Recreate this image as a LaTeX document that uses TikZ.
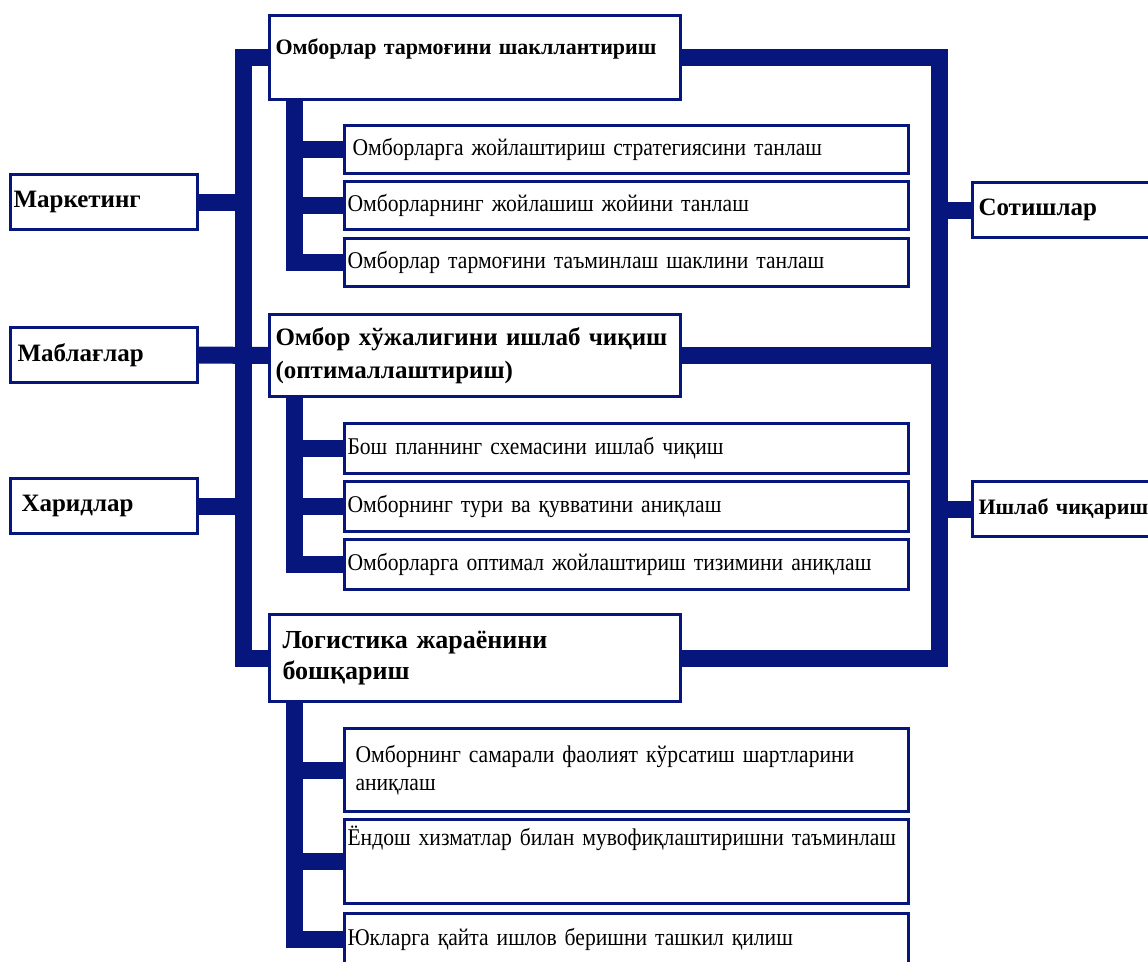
\documentclass[tikz,border=0pt]{standalone}
\usepackage{fontspec}
\setmainfont{Liberation Serif}
\newfontfamily\narrowfont[FakeStretch=0.9,WordSpace=0.8]{Liberation Serif}
\usetikzlibrary{positioning}
\definecolor{navy}{RGB}{6,22,124}

\begin{document}
\begin{tikzpicture}[x=1pt,y=-1pt,
  box/.style={draw=navy,line width=3pt,fill=white,anchor=north west,
    inner xsep=4pt,inner ysep=0pt,align=left},
  sidebox/.style={box,text width=181,minimum height=55,inner xsep=3pt,
    font=\bfseries\fontsize{25}{30}\selectfont},
  rightbox/.style={box,text width=218,minimum height=55,inner xsep=6pt,
    font=\bfseries\fontsize{25}{30}\selectfont},
  mainbox/.style={box,text width=399,inner xsep=6pt,
    font=\bfseries\fontsize{25}{33}\selectfont},
  subbox/.style={box,text width=558,minimum height=48,inner xsep=3pt,
    font=\narrowfont\fontsize{24}{28}\selectfont},
  bar/.style={navy,line width=17pt}]
\useasboundingbox (0,0) rectangle (1148,961);
% left column
\node[sidebox] (market) at (9,173) {Маркетинг};
\node[sidebox] (mablag) at (9,326) {\hspace*{4pt}Маблағлар};
\node[sidebox] (xarid) at (9,477) {\hspace*{8pt}Харидлар};
% right column
\node[rightbox] (sotish) at (971,181) {Сотишлар};
\node[rightbox,font=\bfseries\fontsize{22}{28}\selectfont] (ishlab) at (971,480) {Ишлаб чиқариш};
% main boxes
\node[mainbox,minimum height=84,text height=15pt,text depth=21pt,
  font=\bfseries\fontsize{22}{28}\selectfont] (tarmoq) at (268,14) {Омборлар тармоғини шакллантириш};
\node[mainbox,minimum height=82] (xojalik) at (268,313) {Омбор хўжалигини ишлаб чиқиш\\(оптималлаштириш)};
\node[mainbox,minimum height=87,font=\bfseries\fontsize{26}{31}\selectfont] (logist) at (268,613) {\hspace*{7pt}Логистика жараёнини\\\hspace*{7pt}бошқариш};
% sub boxes
\node[subbox] (s11) at (343,124) {\hspace*{5pt}Омборларга жойлаштириш стратегиясини танлаш};
\node[subbox] (s12) at (343,180) {Омборларнинг жойлашиш жойини танлаш};
\node[subbox] (s13) at (343,237) {Омборлар тармоғини таъминлаш шаклини танлаш};
\node[subbox,minimum height=50] (s21) at (343,422) {Бош планнинг схемасини ишлаб чиқиш};
\node[subbox,minimum height=50] (s22) at (343,480) {Омборнинг тури ва қувватини аниқлаш};
\node[subbox,minimum height=50] (s23) at (343,538) {Омборларга оптимал жойлаштириш тизимини аниқлаш};
\node[subbox,minimum height=83] (s31) at (343,727) {\hspace*{8pt}Омборнинг самарали фаолият кўрсатиш шартларини\\\hspace*{8pt}аниқлаш};
\node[subbox,minimum height=84,text height=16pt,text depth=48pt] (s32) at (343,818) {Ёндош хизматлар билан мувофиқлаштиришни таъминлаш};
\node[subbox,minimum height=52] (s33) at (343,912) {Юкларга қайта ишлов беришни ташкил қилиш};
% connectors
\coordinate (spineL) at (243.5,354);
\coordinate (spineR) at (939.5,354);
\draw[bar] (tarmoq.west) -| (spineL) |- (logist.west);
\draw[bar] (tarmoq.east) -| (spineR) |- (logist.east);
\draw[bar] (market.east) -- (market.east -| spineL);
\draw[bar] (mablag.east) -- (xojalik.west);
\draw[bar] (xarid.east) -- (xarid.east -| spineL);
\draw[bar] (xojalik.east) -- (xojalik.east -| spineR);
\draw[bar] (spineR |- sotish.west) -- (sotish.west);
\draw[bar] (spineR |- ishlab.west) -- (ishlab.west);
\coordinate (stem1) at ([xshift=26]tarmoq.south west);
\coordinate (stem2) at ([xshift=26]xojalik.south west);
\coordinate (stem3) at ([xshift=26]logist.south west);
\foreach \k in {1,2,3}{
  \draw[bar] (stem\k) |- (s\k3.west);
  \foreach \j in {1,2}
    \draw[bar] (stem\k |- s\k\j.west) -- (s\k\j.west);
}
\end{tikzpicture}
\end{document}
